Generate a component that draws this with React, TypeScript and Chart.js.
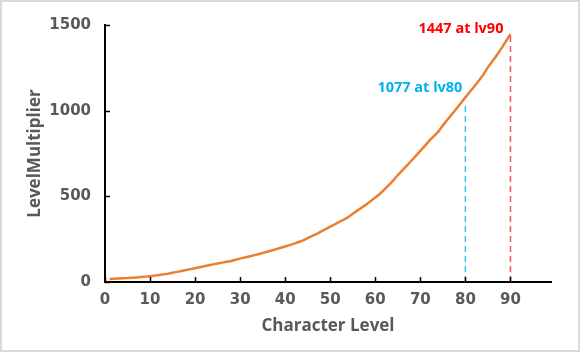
import React, { useEffect, useRef } from "react";
import { Chart, registerables } from "chart.js";

Chart.register(...registerables);

const levels: number[] = [
  1, 2, 3, 4, 5, 6, 7, 8, 9, 10, 11, 12, 13, 14, 15, 16, 17, 18, 19, 20,
  21, 22, 23, 24, 25, 26, 27, 28, 29, 30, 31, 32, 33, 34, 35, 36, 37, 38, 39, 40,
  41, 42, 43, 44, 45, 46, 47, 48, 49, 50, 51, 52, 53, 54, 55, 56, 57, 58, 59, 60,
  61, 62, 63, 64, 65, 66, 67, 68, 69, 70, 71, 72, 73, 74, 75, 76, 77, 78, 79, 80,
  81, 82, 83, 84, 85, 86, 87, 88, 89, 90,
];

const multipliers: number[] = [
  17.17, 18.54, 19.9, 21.27, 22.65, 24.65, 26.64, 28.87, 31.37, 34.14,
  37.2, 40.66, 44.45, 48.56, 53.75, 59.08, 64.42, 69.72, 75.12, 80.58,
  86.11, 91.7, 97.24, 102.81, 108.41, 113.2, 118.1, 122.98, 129.73, 136.29,
  142.67, 149.03, 155.42, 161.83, 169.11, 176.52, 184.07, 191.71, 199.56, 207.38,
  215.4, 224.17, 233.5, 243.35, 256.06, 268.54, 281.53, 295.01, 309.07, 323.6,
  336.76, 350.53, 364.48, 378.62, 398.6, 416.4, 434.39, 452.95, 472.61, 492.88,
  513.57, 539.1, 565.51, 592.54, 624.44, 651.47, 679.5, 707.79, 736.67, 765.64,
  794.77, 824.68, 851.16, 877.74, 914.23, 946.75, 979.41, 1011.22, 1044.79, 1077.44,
  1110.0, 1142.98, 1176.37, 1210.18, 1253.84, 1288.95, 1325.48, 1363.46, 1405.1, 1446.85,
];

const markerLevels: number[] = [80, 90];
const markerValues: number[] = [1077, 1447];
const markerLabels: string[] = ["1077 at lv80", "1447 at lv90"];
const markerColors: string[] = ["#00B0F0", "#FF0000"];
const markerLineColors: string[] = ["#3CC0F0", "#F0505A"];

const xTickValues: number[] = [0, 10, 20, 30, 40, 50, 60, 70, 80, 90];
const yTickValues: number[] = [0, 500, 1000, 1500];

const TITLE_FONT = "'Open Sans', Lato, sans-serif";
const TICK_FONT = "'DejaVu Sans', 'Open Sans', sans-serif";
const GRAY = "#595959";

const markersPlugin = {
  id: "markers",
  afterDatasetsDraw(chart: any) {
    const ctx = chart.ctx;
    const x = chart.scales.x;
    const y = chart.scales.y;
    ctx.save();
    markerLevels.forEach((lv, i) => {
      const px = x.getPixelForValue(lv);
      const py = y.getPixelForValue(markerValues[i]);
      const y0 = y.getPixelForValue(0);
      ctx.strokeStyle = markerLineColors[i];
      ctx.lineWidth = 1.5;
      ctx.setLineDash([6, 4]);
      ctx.beginPath();
      ctx.moveTo(px, y0);
      ctx.lineTo(px, py + (i === 0 ? 6 : 2));
      ctx.stroke();
      ctx.setLineDash([]);
      ctx.fillStyle = markerColors[i];
      ctx.font = `bold 14.5px ${TITLE_FONT}`;
      ctx.textAlign = "right";
      ctx.textBaseline = "middle";
      if (i === 0) {
        ctx.fillText(markerLabels[i], px - 3, py - 10);
      } else {
        ctx.fillText(markerLabels[i], px - 7, py - 5);
      }
    });
    ctx.restore();
  },
  afterDraw(chart: any) {
    const ctx = chart.ctx;
    const x = chart.scales.x;
    const y = chart.scales.y;
    const area = chart.chartArea;
    ctx.save();
    ctx.strokeStyle = "#000000";
    ctx.lineWidth = 1.5;
    ctx.beginPath();
    xTickValues.forEach((v) => {
      const px = Math.round(x.getPixelForValue(v)) + 0.5;
      ctx.moveTo(px, area.bottom);
      ctx.lineTo(px, area.bottom - 5);
    });
    yTickValues.forEach((v) => {
      const py = Math.round(y.getPixelForValue(v)) + 0.5;
      ctx.moveTo(area.left, py);
      ctx.lineTo(area.left + 5, py);
    });
    ctx.stroke();
    ctx.restore();
  },
};

export default function App() {
  const canvasRef = useRef<HTMLCanvasElement | null>(null);

  useEffect(() => {
    if (!canvasRef.current) return;
    const chart = new Chart(canvasRef.current, {
      type: "line",
      data: {
        datasets: [
          {
            label: "LevelMultiplier",
            data: levels.map((lv, i) => ({ x: lv, y: multipliers[i] })),
            borderColor: "#ED7D31",
            borderWidth: 2.5,
            pointRadius: 0,
            tension: 0,
            fill: false,
          },
        ],
      },
      options: {
        responsive: false,
        animation: false,
        layout: { padding: { top: 17, right: 27, left: 0, bottom: 0 } },
        plugins: {
          legend: { display: false },
          tooltip: { enabled: false },
        },
        scales: {
          x: {
            type: "linear",
            min: 0,
            max: 99,
            afterFit: (s: any) => {
              s.height = 68;
            },
            afterBuildTicks: (s: any) => {
              s.ticks = xTickValues.map((v) => ({ value: v }));
            },
            grid: { display: false, drawTicks: false },
            border: { display: true, color: "#000000", width: 2 },
            ticks: {
              color: GRAY,
              padding: 9,
              maxRotation: 0,
              callback: (v: any) => String(v),
              font: { family: TICK_FONT, size: 15, weight: "bold" },
            },
            title: {
              display: true,
              text: "Character Level",
              color: GRAY,
              padding: { top: 0, bottom: 14 },
              font: { family: TITLE_FONT, size: 17, weight: "bold" },
            },
          },
          y: {
            type: "linear",
            min: 0,
            max: 1500,
            afterFit: (s: any) => {
              s.width = 103;
            },
            afterBuildTicks: (s: any) => {
              s.ticks = yTickValues.map((v) => ({ value: v }));
            },
            grid: { display: false, drawTicks: false },
            border: { display: true, color: "#000000", width: 2 },
            ticks: {
              color: GRAY,
              padding: 14,
              callback: (v: any) => String(v),
              font: { family: TICK_FONT, size: 15, weight: "bold" },
            },
            title: {
              display: true,
              text: "LevelMultiplier",
              color: GRAY,
              padding: { top: 23, bottom: 0 },
              font: { family: TITLE_FONT, size: 17, weight: "bold" },
            },
          },
        },
      },
      plugins: [markersPlugin],
    } as any);
    return () => chart.destroy();
  }, []);

  return (
    <div
      style={{
        position: "fixed",
        left: 0,
        top: 0,
        width: 580,
        height: 352,
        boxSizing: "border-box",
        border: "2px solid #D9D9D9",
        background: "#ffffff",
      }}
    >
      <canvas
        ref={canvasRef}
        width={576}
        height={348}
        style={{ display: "block", width: 576, height: 348 }}
      />
    </div>
  );
}
